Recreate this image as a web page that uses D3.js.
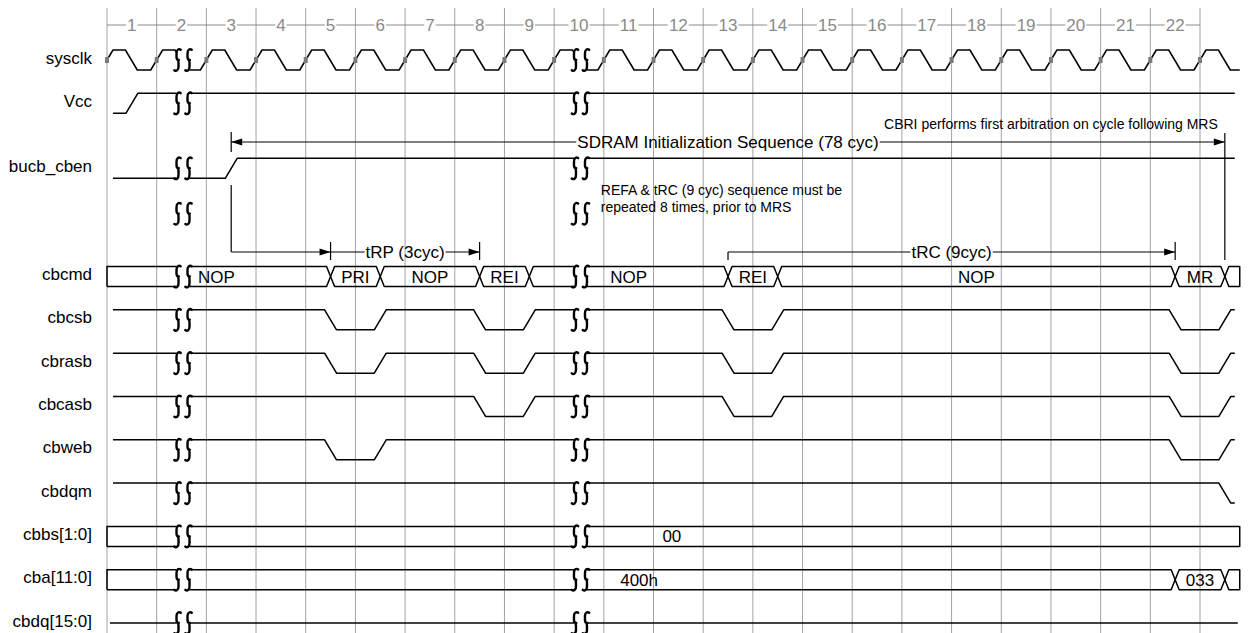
<!DOCTYPE html>
<html><head><meta charset="utf-8">
<script src="https://cdn.jsdelivr.net/npm/d3@7"></script>
<style>
body{margin:0;background:#fff}
svg text{font-family:"Liberation Sans",Arial,sans-serif}
</style>
</head><body>
<svg id="c" width="1254" height="633"></svg>
<script>
// ---------------- data ----------------
const cycleLabels = d3.range(1, 23).map(String);
const signalNames = ["sysclk","Vcc","bucb_cben","","cbcmd","cbcsb","cbrasb","cbcasb","cbweb","cbdqm","cbbs[1:0]","cba[11:0]","cbdq[15:0]"];
const clockEdges = d3.range(0, 23);          // rising edges on every grid line
const breakAt = [1.53, 9.53];                // time-break positions (cycles)

// single-bit waveforms: start level + [cycle, new level]
const vccStart = 0,  vccEdges  = [[0.5, 1]];
const cbenStart = 0, cbenEdges = [[2.5, 1]];
const csbEdges  = [[4.5,0],[5.5,1],[7.5,0],[8.5,1],[12.5,0],[13.5,1],[21.5,0],[22.5,1]];
const rasbEdges = [[4.5,0],[5.5,1],[7.5,0],[8.5,1],[12.5,0],[13.5,1],[21.5,0],[22.5,1]];
const casbEdges = [[7.5,0],[8.5,1],[12.5,0],[13.5,1],[21.5,0],[22.5,1]];
const webEdges  = [[4.5,0],[5.5,1],[21.5,0],[22.5,1]];
const dqmEdges  = [[22.5,0]];

// buses: segment boundaries (cycles), values, value label positions (cycles)
const cmdBounds = [0,4.5,5.5,7.5,8.5,12.5,13.5,21.5,22.5,22.8];
const cmdValues = ["NOP","PRI","NOP","REI","NOP","REI","NOP","MR",""];
const cmdValueAt = [2.2,5,6.5,8,10.5,13,17.5,22,null];
const bsBounds = [0,22.8];
const bsValues = ["00"];
const bsValueAt = [11.37];
const baBounds = [0,21.5,22.5,22.8];
const baValues = ["400h","033",""];
const baValueAt = [10.71,22,null];

// annotations
const seqSpan = [2.5, 22.5], seqText = "SDRAM Initialization Sequence (78 cyc)";
const trpSpan = [4.5, 7.5],  trpText = "tRP (3cyc)";
const trcSpan = [12.5, 21.5], trcText = "tRC (9cyc)";
const cbriNote = "CBRI performs first arbitration on cycle following MRS";
const refaNote = ["REFA & tRC (9 cyc) sequence must be", "repeated 8 times, prior to MRS"];

// ---------------- layout ----------------
const svg = d3.select("#c");
const x = d3.scaleLinear().domain([0, 22]).range([107, 1200]);
const y = d3.scaleLinear().domain([0, 13]).range([60, 623]);
const rowSlot = [0,1,2.5,3.55,5,6,7,8,9,10,11,12,13];
const rowY = i => y(rowSlot[i]);
const HALF = 10, TR = 0.12, XW = 4;
const sigStart = 0.12, sigEnd = 22.7;

// grid
svg.append("g").selectAll("line").data(d3.range(0, 23)).join("line")
  .attr("x1", d => x(d)).attr("x2", d => x(d)).attr("y1", 8).attr("y2", 633)
  .attr("stroke", "#a3a3a3").attr("stroke-width", 1);

// header
const hdr = svg.append("g");
const hdrTexts = hdr.selectAll("text").data(cycleLabels).join("text")
  .attr("x", (d, i) => x(i + 0.5)).attr("y", 30.5).attr("text-anchor", "middle")
  .attr("font-size", 17).attr("fill", "#8a8a8a").text(d => d);
{
  let cur = x(0);
  hdrTexts.each(function(){
    const b = this.getBBox();
    hdr.append("line").attr("x1", cur).attr("x2", b.x - 1).attr("y1", 25).attr("y2", 25)
      .attr("stroke", "#8a8a8a").attr("stroke-width", 1);
    cur = b.x + b.width + 1;
  });
  hdr.append("line").attr("x1", cur).attr("x2", x(22)).attr("y1", 25).attr("y2", 25)
    .attr("stroke", "#8a8a8a").attr("stroke-width", 1);
}

// row names
svg.append("g").selectAll("text").data(signalNames).join("text")
  .attr("x", 92).attr("y", (d, i) => rowY(i) + 3.5).attr("text-anchor", "end")
  .attr("font-size", 17).attr("fill", "#000").text(d => d);

// clip out the time breaks
const defs = svg.append("defs");
const cp = defs.append("clipPath").attr("id", "brk");
{
  let cur = 0;
  breakAt.forEach(b => {
    cp.append("rect").attr("x", cur).attr("y", 0).attr("width", x(b) - 6.5 - cur).attr("height", 633);
    cur = x(b) + 6.5;
  });
  cp.append("rect").attr("x", cur).attr("y", 0).attr("width", 1254 - cur).attr("height", 633);
}
const wave = svg.append("g").attr("clip-path", "url(#brk)")
  .attr("fill", "none").attr("stroke", "#000").attr("stroke-width", 1.5).attr("stroke-linejoin", "round");

const line = d3.line();

// clock
{
  const cy = rowY(0);
  const pts = [[0, 0.5]];
  clockEdges.forEach(k => {
    pts.push([k + 0.12, 1], [k + 0.37, 1], [k + 0.61, 0]);
    pts.push([k === 22 ? 22.8 : k + 0.88, 0]);
  });
  wave.append("path").attr("d", line(pts.map(p => [x(p[0]), cy + (0.5 - p[1]) * 2 * HALF])));
}

// single-bit signals
function level(row, start, edges, t1 = sigEnd) {
  const cy = rowY(row);
  const pts = [[sigStart, start]];
  let v = start;
  edges.forEach(([t, nv]) => { pts.push([t - TR, v], [t + TR, nv]); v = nv; });
  pts.push([t1, v]);
  wave.append("path").attr("d", line(pts.map(p => [x(p[0]), cy + (0.5 - p[1]) * 2 * HALF])));
}
level(1, vccStart, vccEdges);
level(2, cbenStart, cbenEdges);
level(5, 1, csbEdges);
level(6, 1, rasbEdges);
level(7, 1, casbEdges);
level(8, 1, webEdges);
level(9, 1, dqmEdges);
// cbdq: high-Z
wave.append("path").attr("d", line([[x(0.06), rowY(12)], [x(22.76), rowY(12)]]));

// buses
function bus(row, bounds, values, valueAt) {
  const cy = rowY(row), top = cy - HALF, bot = cy + HALF, n = bounds.length - 1;
  for (let i = 0; i < n; i++) {
    const a = x(bounds[i]), b = x(bounds[i + 1]);
    const pts = [];
    if (i === 0) pts.push([a, bot], [a, top]); else pts.push([a, cy], [a + XW, top]);
    if (i === n - 1) pts.push([b, top], [b, bot]); else pts.push([b - XW, top], [b, cy], [b - XW, bot]);
    if (i === 0) pts.push([a, bot]); else pts.push([a + XW, bot], [a, cy]);
    wave.append("path").attr("d", line(pts));
    if (values[i] && valueAt[i] != null) {
      svg.append("text").attr("x", x(valueAt[i])).attr("y", cy + 6).attr("text-anchor", "middle")
        .attr("font-size", 17).attr("fill", "#000").text(values[i]);
    }
  }
}
bus(4, cmdBounds, cmdValues, cmdValueAt);
bus(10, bsBounds, bsValues, bsValueAt);
bus(11, baBounds, baValues, baValueAt);

// break squiggles
const sq = svg.append("g").attr("fill", "none").attr("stroke", "#000").attr("stroke-width", 2.4)
  .attr("stroke-linecap", "round").attr("stroke-linejoin", "round");
breakAt.forEach(b => {
  [-5.5, 5.5].forEach(off => {
    const x0 = x(b) + off;
    signalNames.forEach((n, i) => {
      const cy = rowY(i), t = cy - 11, bt = cy + 11;
      sq.append("path").attr("d",
        `M${x0 + 3.2},${t + 0.8} C${x0 + 1.5},${t - 0.6} ${x0 - 1.2},${t + 0.5} ${x0 - 1},${t + 4.5}` +
        ` L${x0 - 1},${cy - 3} C${x0 - 1},${cy - 0.8} ${x0 + 0.2},${cy} ${x0 + 1.3},${cy}` +
        ` C${x0 + 0.2},${cy} ${x0 + 1},${cy + 0.8} ${x0 + 1},${cy + 3}` +
        ` L${x0 + 1},${bt - 4.5} C${x0 + 1.2},${bt - 0.5} ${x0 - 1.5},${bt + 0.6} ${x0 - 3.2},${bt - 0.8}`);
    });
  });
});

// annotations
const ann = svg.append("g");
function arrowHead(tx, ty, dir) {
  ann.append("path").attr("d", `M${tx},${ty} L${tx - dir * 11},${ty - 3.5} L${tx - dir * 11},${ty + 3.5} Z`).attr("fill", "#000");
}
function hline(x1, x2, yy) {
  ann.append("line").attr("x1", x1).attr("x2", x2).attr("y1", yy).attr("y2", yy).attr("stroke", "#000").attr("stroke-width", 1.2);
}
function vline(xx, y1, y2) {
  ann.append("line").attr("x1", xx).attr("x2", xx).attr("y1", y1).attr("y2", y2).attr("stroke", "#000").attr("stroke-width", 1.2);
}
function labeledSpan(a, b, yy, txt) {
  const t = ann.append("text").attr("x", (a + b) / 2).attr("y", yy + 6).attr("text-anchor", "middle")
    .attr("font-size", 17).attr("fill", "#000").text(txt);
  const bb = t.node().getBBox();
  hline(a, bb.x - 1, yy);
  hline(bb.x + bb.width + 1, b, yy);
}
// SDRAM init sequence
{
  const yy = 142, a = x(seqSpan[0]), b = x(seqSpan[1]);
  labeledSpan(a, b, yy, seqText);
  arrowHead(a, yy, -1); arrowHead(b, yy, 1);
  vline(a, 132, 152);
  vline(b, 133, 260);
}
// from bucb_cben rise to tRP start
{
  const a = x(cbenEdges[0][0]), b = x(trpSpan[0]), yy = 252;
  vline(a, 185, yy);
  hline(a, b, yy);
  arrowHead(b, yy, 1);
}
// tRP
{
  const a = x(trpSpan[0]), b = x(trpSpan[1]), yy = 252;
  labeledSpan(a, b, yy, trpText);
  vline(a, 242, 260);
  vline(b, 242, 260);
  arrowHead(b, yy, 1);
}
// tRC
{
  const a = x(trcSpan[0]), b = x(trcSpan[1]), yy = 252;
  labeledSpan(a, b, yy, trcText);
  vline(a, yy, 260);
  vline(b, 242, 260);
  arrowHead(b, yy, 1);
}
ann.append("text").attr("x", x(seqSpan[1]) - 7).attr("y", 129).attr("text-anchor", "end")
  .attr("font-size", 14).attr("fill", "#000").text(cbriNote);
ann.selectAll("text.refa").data(refaNote).join("text").attr("class", "refa")
  .attr("x", x(10) - 3).attr("y", (d, i) => 195 + i * 17)
  .attr("font-size", 14).attr("fill", "#000").text(d => d);

// clock edge markers
svg.append("g").selectAll("rect").data(clockEdges).join("rect")
  .attr("x", d => x(d) - 2).attr("y", rowY(0) - 3).attr("width", 4).attr("height", 6)
  .attr("fill", "#7a7a7a");
</script>
</body></html>
